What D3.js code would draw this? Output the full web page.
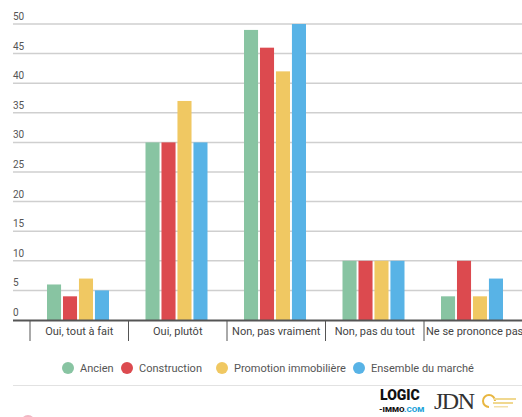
<!DOCTYPE html>
<html>
<head>
<meta charset="utf-8">
<script src="https://cdn.jsdelivr.net/npm/d3@7"></script>
<style>
  html, body { margin: 0; padding: 0; background: #fff; }
  svg { display: block; font-family: Roboto, "Noto Sans", sans-serif; }
</style>
</head>
<body>
<svg id="chart" width="522" height="417"></svg>
<script>
// Survey answers by market segment (percent)
const categories = ["Oui, tout à fait", "Oui, plutôt", "Non, pas vraiment", "Non, pas du tout", "Ne se prononce pas"];
const seriesNames = ["Ancien", "Construction", "Promotion immobilière", "Ensemble du marché"];
const ancien = [6, 30, 49, 10, 4];
const construction = [4, 30, 46, 10, 10];
const promotion = [7, 37, 42, 10, 4];
const ensemble = [5, 30, 50, 10, 7];
const yTicks = [0, 5, 10, 15, 20, 25, 30, 35, 40, 45, 50];
const colors = ["#88c4a2", "#dc4a4f", "#f0c862", "#58b3e6"];

const seriesValues = [ancien, construction, promotion, ensemble];
const rows = categories.map((c, i) => ({
  category: c,
  values: seriesNames.map((s, j) => ({ series: s, value: seriesValues[j][i], color: colors[j] }))
}));

const svg = d3.select("#chart");
const W = 522;

const x = d3.scaleBand().domain(categories).range([30, 522.5]);
const xs = d3.scaleBand().domain(seriesNames).range([17, 79]).paddingInner(0.12);
const y = d3.scaleLinear().domain([0, 50]).range([320, 24]);

// horizontal grid + value labels
const grid = svg.append("g");
grid.selectAll("line").data(yTicks.filter(d => d > 0)).join("line")
  .attr("x1", 13).attr("x2", W)
  .attr("y1", d => y(d)).attr("y2", d => y(d))
  .attr("stroke", "#cfcfcf").attr("stroke-width", 1.5);
grid.selectAll("text").data(yTicks).join("text")
  .attr("x", 13).attr("y", d => y(d) - 4)
  .attr("font-size", 10).attr("fill", "#555")
  .text(d => d);

// bars
const groups = svg.append("g").selectAll("g").data(rows).join("g")
  .attr("transform", d => `translate(${x(d.category)},0)`);
groups.selectAll("rect").data(d => d.values).join("rect")
  .attr("x", d => xs(d.series))
  .attr("width", xs.bandwidth())
  .attr("y", d => y(d.value))
  .attr("height", d => y(0) - y(d.value))
  .attr("fill", d => d.color);

// category axis
const xAxis = svg.append("g");
xAxis.append("line")
  .attr("x1", 13).attr("x2", W).attr("y1", y(0) + 0.5).attr("y2", y(0) + 0.5)
  .attr("stroke", "#555").attr("stroke-width", 2);
xAxis.selectAll("line.sep").data(categories).join("line").attr("class", "sep")
  .attr("x1", d => x(d)).attr("x2", d => x(d))
  .attr("y1", y(0)).attr("y2", y(0) + 21)
  .attr("stroke", "#555").attr("stroke-width", 1);
xAxis.selectAll("text").data(categories).join("text")
  .attr("x", (d, i) => i === categories.length - 1 ? x(d) + 2 : x(d) + x.bandwidth() / 2)
  .attr("y", 335)
  .attr("text-anchor", (d, i) => i === categories.length - 1 ? "start" : "middle")
  .attr("font-size", 11).attr("fill", "#444")
  .text(d => d);

// legend
const legendX = [68, 127, 222, 359];
const legend = svg.append("g").selectAll("g").data(seriesNames).join("g")
  .attr("transform", (d, i) => `translate(${legendX[i]},368)`);
legend.append("circle").attr("r", 6).attr("fill", (d, i) => colors[i]);
legend.append("text").attr("x", 12).attr("y", 3.8)
  .attr("font-size", 11).attr("fill", "#555").text(d => d);

// footer rule
svg.append("line").attr("x1", 13).attr("x2", W).attr("y1", 385.5).attr("y2", 385.5)
  .attr("stroke", "#e2e2e2").attr("stroke-width", 1);

// footer brands
const foot = svg.append("g");
foot.append("text").attr("x", 380).attr("y", 400)
  .attr("font-size", 14).attr("font-weight", 900).attr("fill", "#111").text("LOGIC");
const immo = foot.append("text").attr("x", 379).attr("y", 412)
  .attr("font-size", 8).attr("font-weight", 900);
immo.append("tspan").attr("fill", "#111").text("-IMMO");
immo.append("tspan").attr("fill", "#1fa3d9").text(".COM");
foot.append("text").attr("x", 434).attr("y", 409)
  .attr("font-family", "'Liberation Serif', serif")
  .attr("font-size", 24).attr("fill", "#333").attr("letter-spacing", -1.5).text("JDN");
foot.append("path").attr("d", "M489,407 A6,6 0 1,1 495,401")
  .attr("fill", "none").attr("stroke", "#e8b640").attr("stroke-width", 2);
foot.append("rect").attr("x", 494).attr("y", 398).attr("width", 22).attr("height", 2).attr("fill", "#f0d890");
foot.append("rect").attr("x", 493).attr("y", 402).attr("width", 20).attr("height", 2).attr("fill", "#f0d890");
foot.append("rect").attr("x", 494).attr("y", 406).attr("width", 14).attr("height", 1.5).attr("fill", "#f3e0a8");
foot.append("circle").attr("cx", 28).attr("cy", 422).attr("r", 7).attr("fill", "#f0b8c4");
</script>
</body>
</html>
